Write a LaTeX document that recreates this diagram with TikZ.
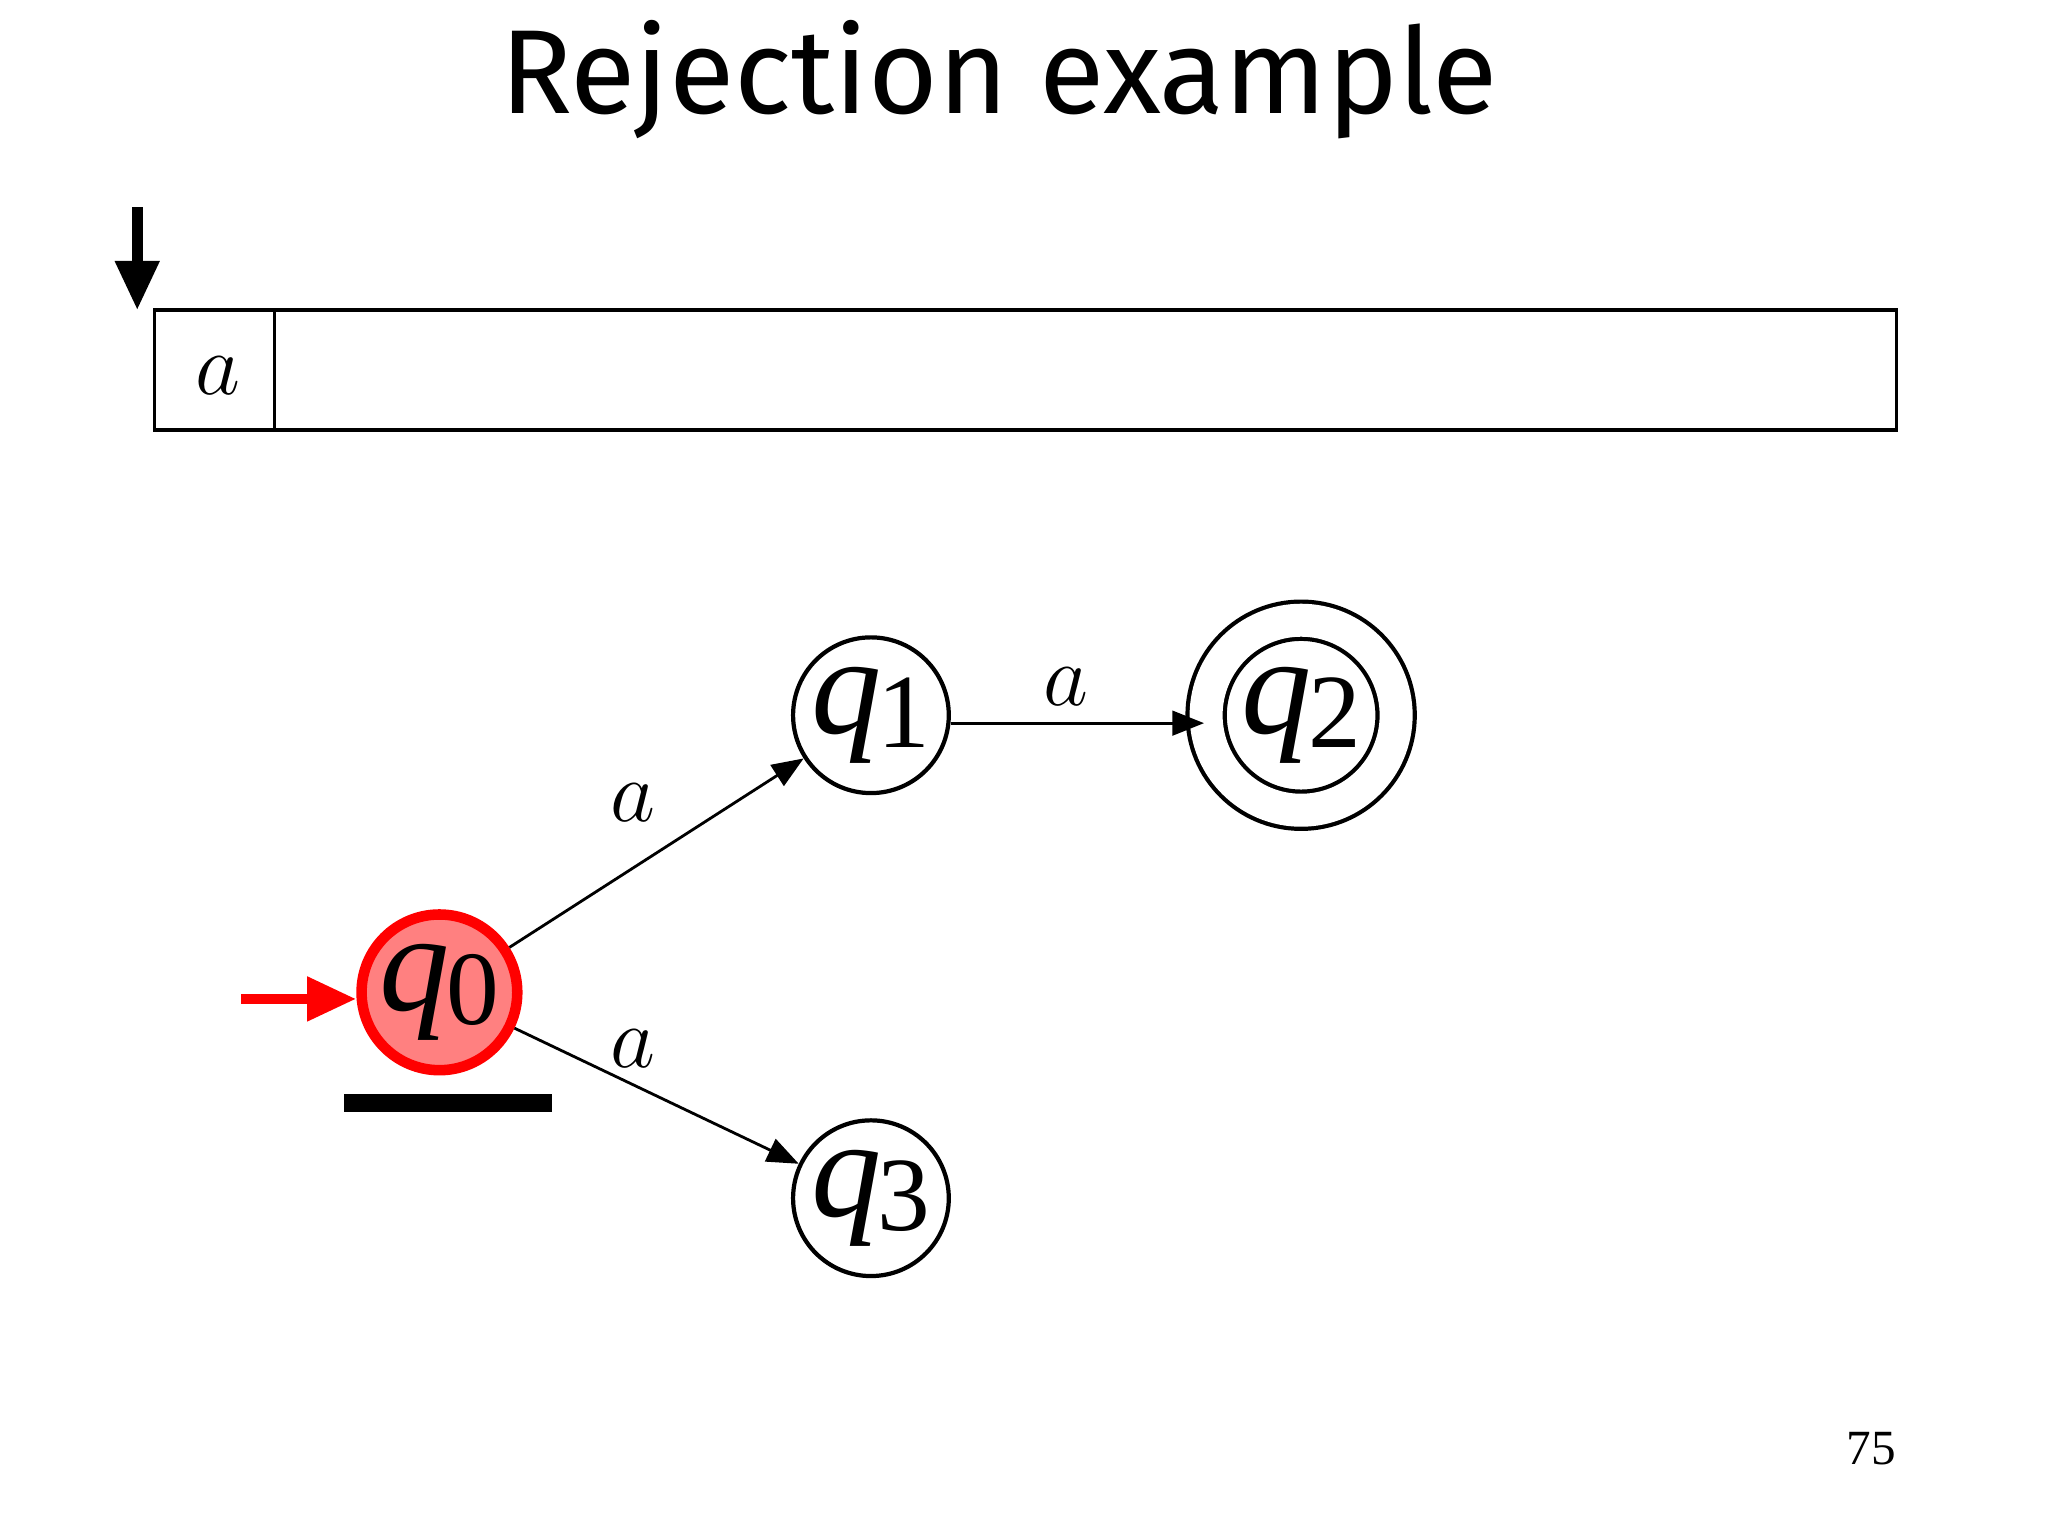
\documentclass[tikz,border=0pt]{standalone}
\usepackage{fontspec}
\setmainfont{Liberation Serif}
\newfontfamily\titlefont{Fira Sans}
\usetikzlibrary{arrows.meta}
\newcommand{\qs}[1]{\textit{q}\kern-1pt\raisebox{-0.22ex}{\fontsize{30}{30}\selectfont #1}}
\begin{document}
\begin{tikzpicture}[x=0.0132cm,y=-0.0132cm,
  st/.style={circle,draw,line width=1.2pt,minimum size=118*0.0132cm,inner sep=0pt,font=\fontsize{40}{40}\selectfont},
  edge/.style={draw,line width=0.8pt,-{Triangle[length=9pt,width=7pt]}},
  lab/.style={font=\fontsize{36}{36}\selectfont}]
\useasboundingbox (0,0) rectangle (1552,1164);
\node[font=\titlefont\fontsize{34}{34}\selectfont] (title) at (757,60) {Rejection example};
\coordinate (h1) at (104,157); \coordinate (h2) at (104,235);
\draw[line width=3pt,-{Triangle[length=14pt,width=12pt]}] (h1) -- (h2);
\draw[line width=1pt] (117,235) rectangle (1437,326);
\draw[line width=1pt] (208,235) -- (208,326);
\node[lab] (ta) at (165,285) {$a$};
\node[st,draw=red,fill=red!50,line width=3pt] (q0) at (333,752) {\qs{0}};
\node[st] (q1) at (660,542) {\qs{1}};
\node[st,double distance=25*0.0132cm,minimum size=144*0.0132cm] (q2) at (986,542) {\qs{2}};
\node[st] (q3) at (660,908) {\qs{3}};
\coordinate (s) at (183,757);
\draw[red,line width=3pt,-{Triangle[length=14pt,width=12pt]}] (s) -- (q0.west |- s);
\draw[line width=5pt] (261,836) -- (418,836);
\draw[edge] (q0) -- (q1);
\draw[edge] (q0) -- (q3);
\draw[edge] (q1.east |- 0,548) -- (q2.west |- 0,548);
\node[lab] (l1) at (480,608) {$a$};
\node[lab] (l2) at (808,520) {$a$};
\node[lab] (l3) at (480,795) {$a$};
\node[font=\fontsize{14}{14}\selectfont] (pg) at (1418,1098) {75};
\end{tikzpicture}
\end{document}
